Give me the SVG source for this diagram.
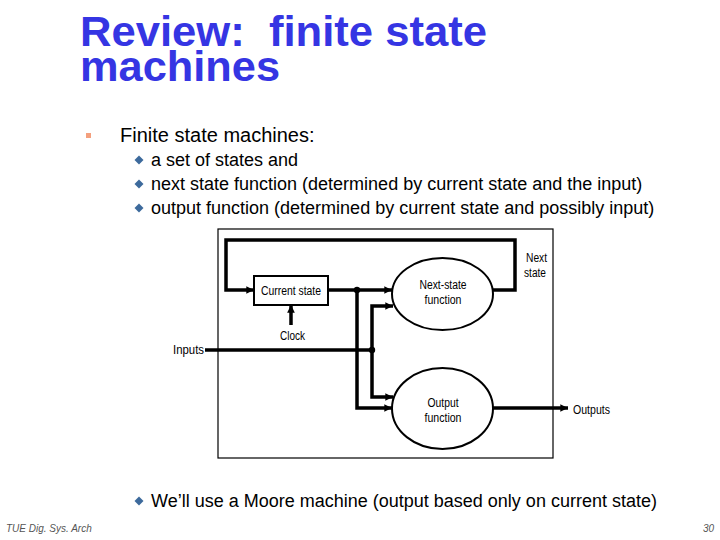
<svg xmlns="http://www.w3.org/2000/svg" width="720" height="540" viewBox="0 0 720 540">
<style>
.title{font-family:"Liberation Sans",Arial,sans-serif;font-weight:bold;font-size:42px;fill:#3535e3;white-space:pre}
.l1{font-family:"Liberation Sans",Arial,sans-serif;font-size:20px;fill:#000}
.l2{font-family:"Liberation Sans",Arial,sans-serif;font-size:18px;fill:#000}
.lab{font-family:"Liberation Sans",Arial,sans-serif;font-size:12.5px;fill:#000;text-anchor:middle}
.foot{font-family:"Liberation Sans",Arial,sans-serif;font-size:10px;font-style:italic;fill:#555}
.wire{fill:none;stroke:#000;stroke-width:3.5;stroke-linejoin:miter}
.arr{fill:none;stroke:#000;stroke-width:3.5;marker-end:url(#ah)}
.shape{fill:#fff;stroke:#000;stroke-width:2}
.dia{fill:#3d6a9c}
</style>
<defs>
<marker id="ah" viewBox="0 0 10 10" refX="10" refY="5" markerWidth="2.2" markerHeight="2.2" orient="auto" markerUnits="strokeWidth">
<path d="M0,0 L10,5 L0,10 z" fill="#000"/>
</marker>
</defs>
<rect width="720" height="540" fill="#fff"/>
<text class="title" x="80" y="46" xml:space="preserve" textLength="407" lengthAdjust="spacingAndGlyphs">Review:  finite state</text>
<text class="title" x="80" y="81" textLength="200" lengthAdjust="spacingAndGlyphs">machines</text>
<rect x="86" y="133" width="5" height="5" fill="#f4a07e"/>
<text class="l1" x="120" y="142">Finite state machines:</text>
<path class="dia" d="M139,155.5 L143.5,160 L139,164.5 L134.5,160 z"/>
<path class="dia" d="M139,179.5 L143.5,184 L139,188.5 L134.5,184 z"/>
<path class="dia" d="M139,203.5 L143.5,208 L139,212.5 L134.5,208 z"/>
<text class="l2" x="151" y="166">a set of states and</text>
<text class="l2" x="151" y="190">next state function (determined by current state and the input)</text>
<text class="l2" x="151" y="214">output function (determined by current state and possibly input)</text>
<rect x="218" y="229" width="335" height="229" fill="none" stroke="#000" stroke-width="1.2"/>
<g id="connectors">
<path class="arr" d="M493,290 H515 V240 H226 V290 H254"/>
<path class="arr" d="M291,325 V305"/>
<path class="arr" d="M328,290 H392"/>
<path class="arr" d="M357,290 V408 H392"/>
<path class="wire" d="M205,350 H372"/>
<path class="arr" d="M372,350 V306 H393"/>
<path class="arr" d="M372,350 V397 H393"/>
<path class="arr" d="M493,408 H568"/>
<circle cx="357" cy="290" r="3.2" fill="#000"/>
<circle cx="372" cy="350" r="3.2" fill="#000"/>
</g>
<g id="current-state">
<rect class="shape" x="254" y="276" width="74" height="29"/>
<text class="lab" x="291" y="294.5" textLength="60" lengthAdjust="spacingAndGlyphs">Current state</text>
</g>
<g id="next-state-function">
<ellipse class="shape" cx="442.5" cy="294" rx="50.5" ry="36"/>
<text class="lab" x="443" y="288.5" textLength="47" lengthAdjust="spacingAndGlyphs">Next-state</text>
<text class="lab" x="443" y="303.5" textLength="37" lengthAdjust="spacingAndGlyphs">function</text>
</g>
<g id="output-function">
<ellipse class="shape" cx="442.5" cy="408.5" rx="50.5" ry="40.5"/>
<text class="lab" x="443" y="406.5" textLength="31" lengthAdjust="spacingAndGlyphs">Output</text>
<text class="lab" x="443" y="421.5" textLength="37" lengthAdjust="spacingAndGlyphs">function</text>
</g>
<g id="labels">
<text class="lab" x="536.5" y="262" textLength="21" lengthAdjust="spacingAndGlyphs">Next</text>
<text class="lab" x="535" y="277" textLength="22" lengthAdjust="spacingAndGlyphs">state</text>
<text class="lab" x="292.5" y="339.5" textLength="25" lengthAdjust="spacingAndGlyphs">Clock</text>
<text class="lab" x="188.5" y="354" textLength="31" lengthAdjust="spacingAndGlyphs">Inputs</text>
<text class="lab" x="591.5" y="414" textLength="37" lengthAdjust="spacingAndGlyphs">Outputs</text>
</g>
<path class="dia" d="M139,496.5 L143.5,501 L139,505.5 L134.5,501 z"/>
<text class="l2" x="151" y="507">We’ll use a Moore machine (output based only on current state)</text>
<text class="foot" x="6" y="532">TUE Dig. Sys. Arch</text>
<text class="foot" x="703" y="532">30</text>
</svg>
